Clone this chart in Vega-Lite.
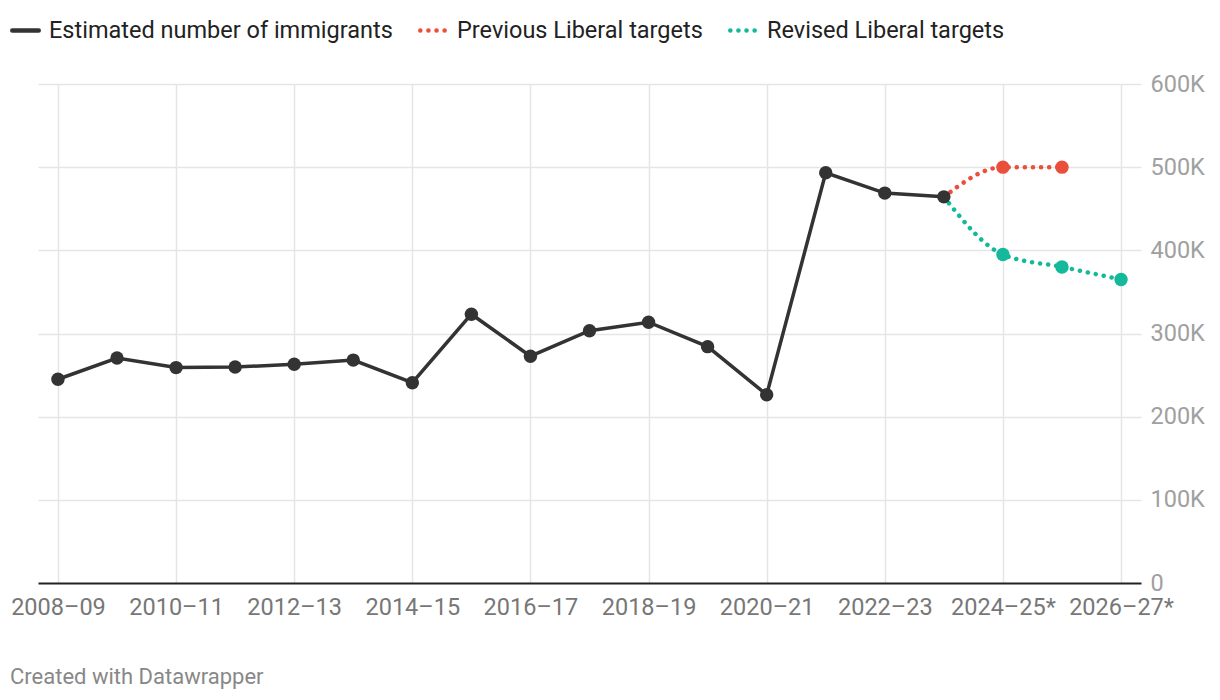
{
  "$schema": "https://vega.github.io/schema/vega-lite/v6.json",
  "width": 1103,
  "height": 499,
  "autosize": {"type": "none"},
  "padding": {"left": 38, "top": 84, "right": 79, "bottom": 117},
  "background": "white",
  "config": {"font": "Roboto", "view": {"stroke": null}},
  "title": {"text": "Created with Datawrapper", "orient": "bottom", "anchor": "start", "fontSize": 22, "fontWeight": "normal", "color": "#888888", "offset": 48, "dx": 0, "font": "Roboto"},
  "data": {"values": [
    {"period": "2008–09", "value": 245000, "series": "Estimated number of immigrants"},
    {"period": "2009–10", "value": 270500, "series": "Estimated number of immigrants"},
    {"period": "2010–11", "value": 259000, "series": "Estimated number of immigrants"},
    {"period": "2011–12", "value": 259700, "series": "Estimated number of immigrants"},
    {"period": "2012–13", "value": 263000, "series": "Estimated number of immigrants"},
    {"period": "2013–14", "value": 268000, "series": "Estimated number of immigrants"},
    {"period": "2014–15", "value": 240800, "series": "Estimated number of immigrants"},
    {"period": "2015–16", "value": 323200, "series": "Estimated number of immigrants"},
    {"period": "2016–17", "value": 272700, "series": "Estimated number of immigrants"},
    {"period": "2017–18", "value": 303300, "series": "Estimated number of immigrants"},
    {"period": "2018–19", "value": 313600, "series": "Estimated number of immigrants"},
    {"period": "2019–20", "value": 284200, "series": "Estimated number of immigrants"},
    {"period": "2020–21", "value": 226300, "series": "Estimated number of immigrants"},
    {"period": "2021–22", "value": 493200, "series": "Estimated number of immigrants"},
    {"period": "2022–23", "value": 468800, "series": "Estimated number of immigrants"},
    {"period": "2023–24", "value": 464300, "series": "Estimated number of immigrants"},
    {"period": "2023–24", "value": 464300, "series": "Previous Liberal targets"},
    {"period": "2024–25*", "value": 500000, "series": "Previous Liberal targets"},
    {"period": "2025–26*", "value": 500000, "series": "Previous Liberal targets"},
    {"period": "2023–24", "value": 464300, "series": "Revised Liberal targets"},
    {"period": "2024–25*", "value": 395000, "series": "Revised Liberal targets"},
    {"period": "2025–26*", "value": 380000, "series": "Revised Liberal targets"},
    {"period": "2026–27*", "value": 365000, "series": "Revised Liberal targets"}
  ]},
  "encoding": {
    "x": {
      "field": "period", "type": "ordinal",
      "scale": {"type": "point", "padding": 0.338, "domain": ["2008–09","2009–10","2010–11","2011–12","2012–13","2013–14","2014–15","2015–16","2016–17","2017–18","2018–19","2019–20","2020–21","2021–22","2022–23","2023–24","2024–25*","2025–26*","2026–27*"]},
      "axis": {
        "title": null,
        "values": ["2008–09","2010–11","2012–13","2014–15","2016–17","2018–19","2020–21","2022–23","2024–25*","2026–27*"],
        "labelAngle": 0, "labelFontSize": 23.5, "labelColor": "#777777", "labelPadding": 12,
        "ticks": false, "domain": false,
        "grid": true, "gridColor": "#e5e5e5", "gridWidth": 1.5, "zindex": 0
      }
    },
    "y": {
      "field": "value", "type": "quantitative",
      "scale": {"domain": [0, 600000], "nice": false},
      "axis": {
        "title": null, "orient": "right", "values": [0,100000,200000,300000,400000,500000,600000],
        "labelExpr": "datum.value == 0 ? '0' : (datum.value/1000) + 'K'",
        "labelFontSize": 23.5, "labelColor": "#a0a0a0", "labelPadding": 9,
        "ticks": false, "domain": false, "grid": true,
        "gridColor": {"condition": {"test": "datum.value == 0", "value": "#222222"}, "value": "#e5e5e5"},
        "gridWidth": {"condition": {"test": "datum.value == 0", "value": 2}, "value": 1.5}
      }
    },
    "color": {
      "field": "series", "type": "nominal",
      "scale": {"domain": ["Estimated number of immigrants","Previous Liberal targets","Revised Liberal targets"], "range": ["#333333","#ea4f3c","#13b99a"]},
      "legend": {
        "title": null, "orient": "none", "legendX": -28, "legendY": -69, "direction": "horizontal",
        "labelFontSize": 23.5, "labelColor": "#222222", "labelLimit": 500, "symbolType": "stroke", "symbolSize": 700, "symbolStrokeWidth": 4.5,
        "columnPadding": 18, "labelOffset": 8,
        "encode": {"symbols": {"update": {"strokeCap": {"value": "round"}, "strokeDash": {"signal": "datum.value == 'Estimated number of immigrants' ? [1,0] : [0.1,8]"}}}}
      }
    }
  },
  "layer": [
    {
      "transform": [{"filter": "datum.series != 'Estimated number of immigrants'"}],
      "mark": {"type": "line", "interpolate": "monotone", "strokeWidth": 4.5, "strokeDash": [0.1, 8], "strokeCap": "round"}
    },
    {
      "transform": [{"filter": "datum.series == 'Estimated number of immigrants'"}],
      "mark": {"type": "line", "strokeWidth": 3.5}
    },
    {
      "transform": [{"filter": "datum.series == 'Estimated number of immigrants' || datum.period != '2023–24'"}],
      "mark": {"type": "circle", "size": 180, "opacity": 1}
    }
  ]
}
